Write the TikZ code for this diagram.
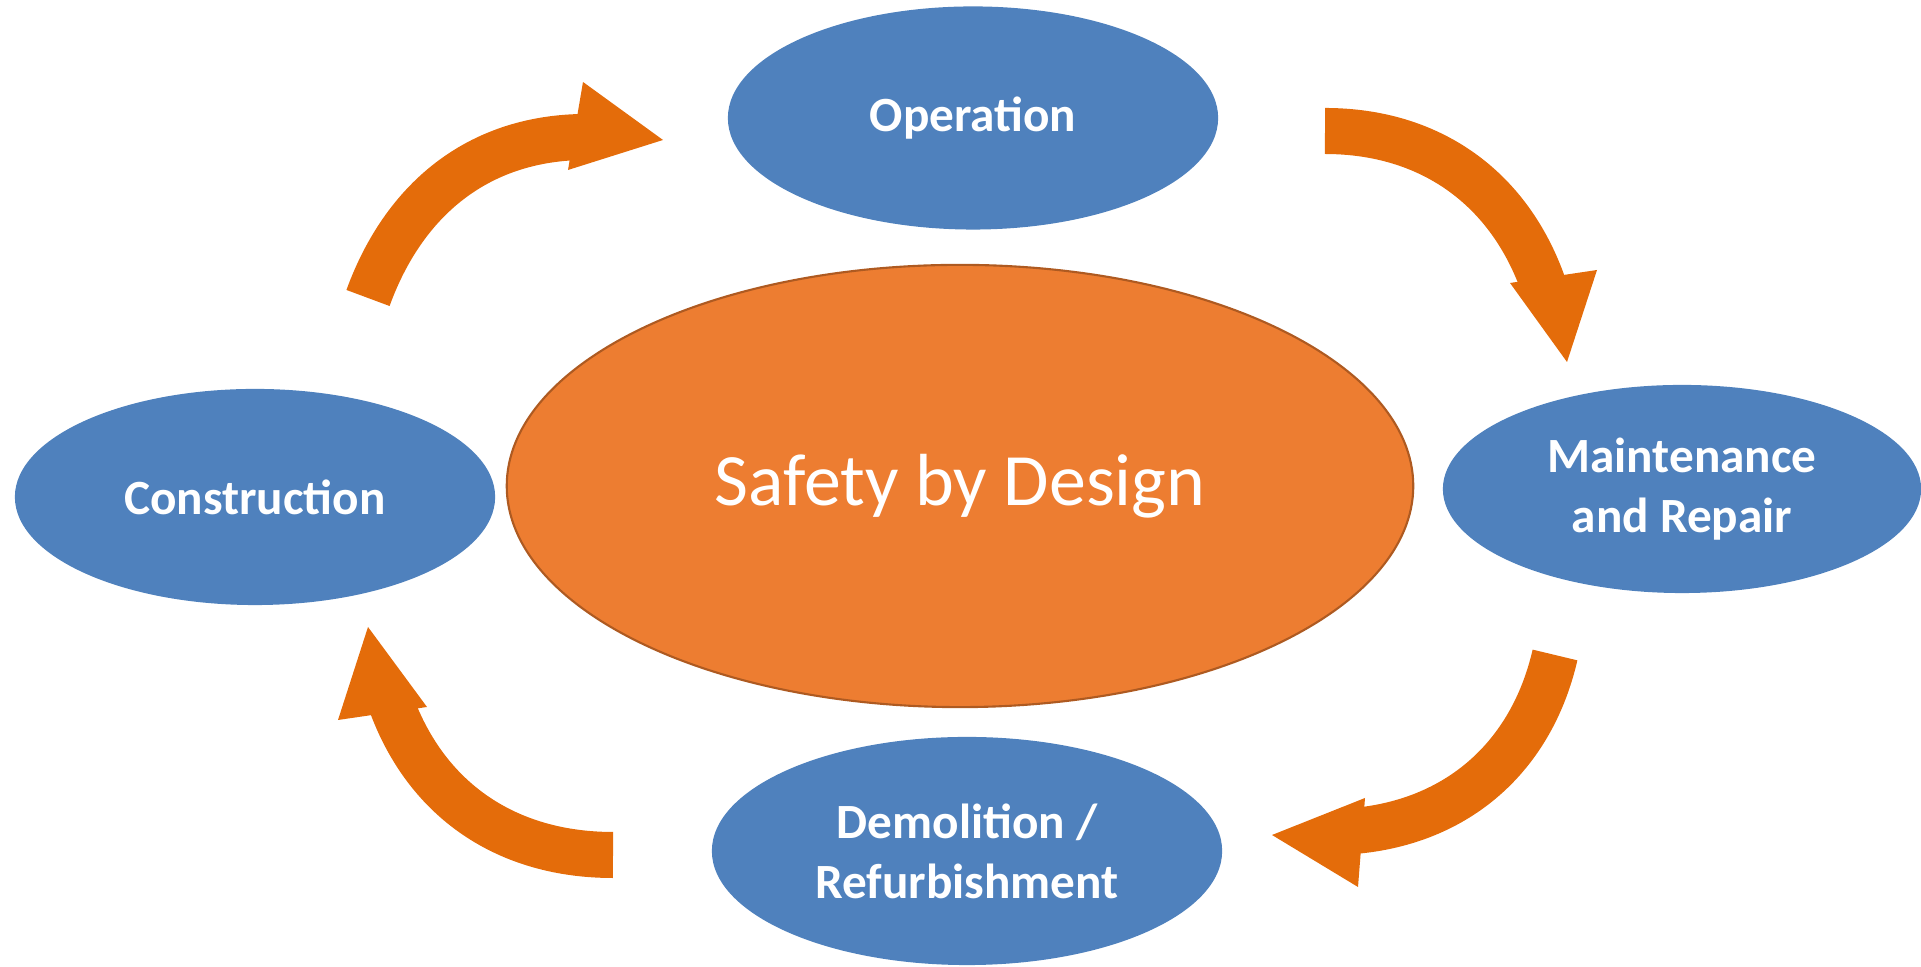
\documentclass[tikz,border=0pt]{standalone}
\usepackage{fontspec}
\setmainfont{Carlito}
\usetikzlibrary{shapes.geometric}

\definecolor{phaseblue}{HTML}{4F81BD}
\definecolor{coreorange}{HTML}{ED7D31}
\definecolor{coreedge}{HTML}{AE5A21}
\definecolor{flowarrow}{HTML}{E46C0A}

\begin{document}
\begin{tikzpicture}[
  x=0.01cm, y=0.01cm,
  phase/.style={ellipse, fill=phaseblue, inner sep=0pt, text=white, align=center, font=\bfseries\fontsize{14}{17}\selectfont},
  core/.style={ellipse, fill=coreorange, draw=coreedge, line width=0.6pt, inner sep=0pt, text=white, font=\fontsize{21}{25}\selectfont},
  shaft/.style={draw=flowarrow, line width=4.6mm},
  head/.style={fill=flowarrow}
]

\useasboundingbox (0,0) rectangle (1921,967);

\node[core, minimum width=9.06cm, minimum height=4.42cm] (sbd) at (960,481) {Safety by Design};
\node[phase, minimum width=4.90cm, minimum height=2.23cm] (oper) at (973,849) {Operation};
\node[phase, minimum width=4.78cm, minimum height=2.08cm] (maint) at (1682,478) {Maintenance\\and Repair};
\node[phase, minimum width=5.10cm, minimum height=2.28cm] (demol) at (967,116) {Demolition /\\Refurbishment};
\node[phase, minimum width=4.80cm, minimum height=2.16cm] (constr) at (255,470) {Construction};

% Arrow ends: tail, shaft end, head corners, tip
\coordinate (t1) at (368,669);  \coordinate (s1) at (582,830);
\coordinate (h1l) at (583,885); \coordinate (h1r) at (568,797); \coordinate (h1) at (663,827);
\coordinate (t2) at (1325,836); \coordinate (s2) at (1544,680);
\coordinate (h2l) at (1597,697); \coordinate (h2r) at (1510,684); \coordinate (h2) at (1567,605);
\coordinate (t3) at (1555,312); \coordinate (s3) at (1354,136);
\coordinate (h3l) at (1358,80); \coordinate (h3r) at (1365,169); \coordinate (h3) at (1272,132);
\coordinate (t4) at (613,112);  \coordinate (s4) at (391,264);
\coordinate (h4l) at (338,247); \coordinate (h4r) at (427,260); \coordinate (h4) at (368,340);

% Arrows
\draw[shaft] (t1) to[out=70,in=181] (s1);
\draw[shaft] (t2) to[out=0,in=109] (s2);
\draw[shaft] (t3) to[out=257,in=5] (s3);
\draw[shaft] (t4) to[out=180,in=-70] (s4);
\fill[head] (h1l) -- (h1) -- (h1r) -- cycle;
\fill[head] (h2l) -- (h2) -- (h2r) -- cycle;
\fill[head] (h3l) -- (h3) -- (h3r) -- cycle;
\fill[head] (h4l) -- (h4) -- (h4r) -- cycle;

\end{tikzpicture}
\end{document}
